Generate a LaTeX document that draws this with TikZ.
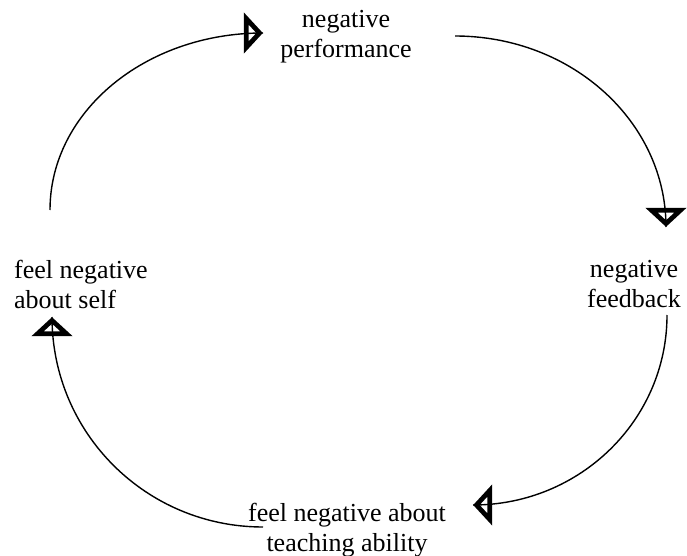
\documentclass[tikz,border=0pt]{standalone}
\usepackage{fontspec}
\setmainfont{Liberation Serif}
\usetikzlibrary{arrows.meta,decorations.markings}
\begin{document}
\begin{tikzpicture}[x=1pt,y=-1pt,
  lbl/.style={inner sep=0pt, font=\fontsize{26}{30}\selectfont, align=center, anchor=base},
  conn/.style={line width=1.4pt,
    decoration={markings, mark=at position 0.9995 with {\arrow{Triangle[open,length=19pt,width=40pt,line width=5.5pt]}}},
    postaction={decorate}}]
\useasboundingbox (0,0) rectangle (687,556);
\node[lbl] (perf) at (346,58) {negative\\performance};
\node[lbl] (fb) at (634,307) {negative\\feedback};
\node[lbl, align=left, anchor=base west] (self) at (14,308) {feel negative\\about self};
\node[lbl] (teach) at (347,551) {feel negative about\\teaching ability};
\coordinate (a1) at (50,210);  \coordinate (b1) at (263,33);
\coordinate (a2) at (455,36);  \coordinate (b2) at (666,227);
\coordinate (a3) at (667,315); \coordinate (b3) at (473,505);
\coordinate (a4) at (263,527); \coordinate (b4) at (52,317);
\draw[conn] (a1) .. controls +(0,-98) and +(-118,0) .. (b1);
\draw[conn] (a2) .. controls +(117,0) and +(0,-105) .. (b2);
\draw[conn] (a3) .. controls +(0,105) and +(107,0) .. (b3);
\draw[conn] (a4) .. controls +(-117,0) and +(0,116) .. (b4);
\end{tikzpicture}
\end{document}
